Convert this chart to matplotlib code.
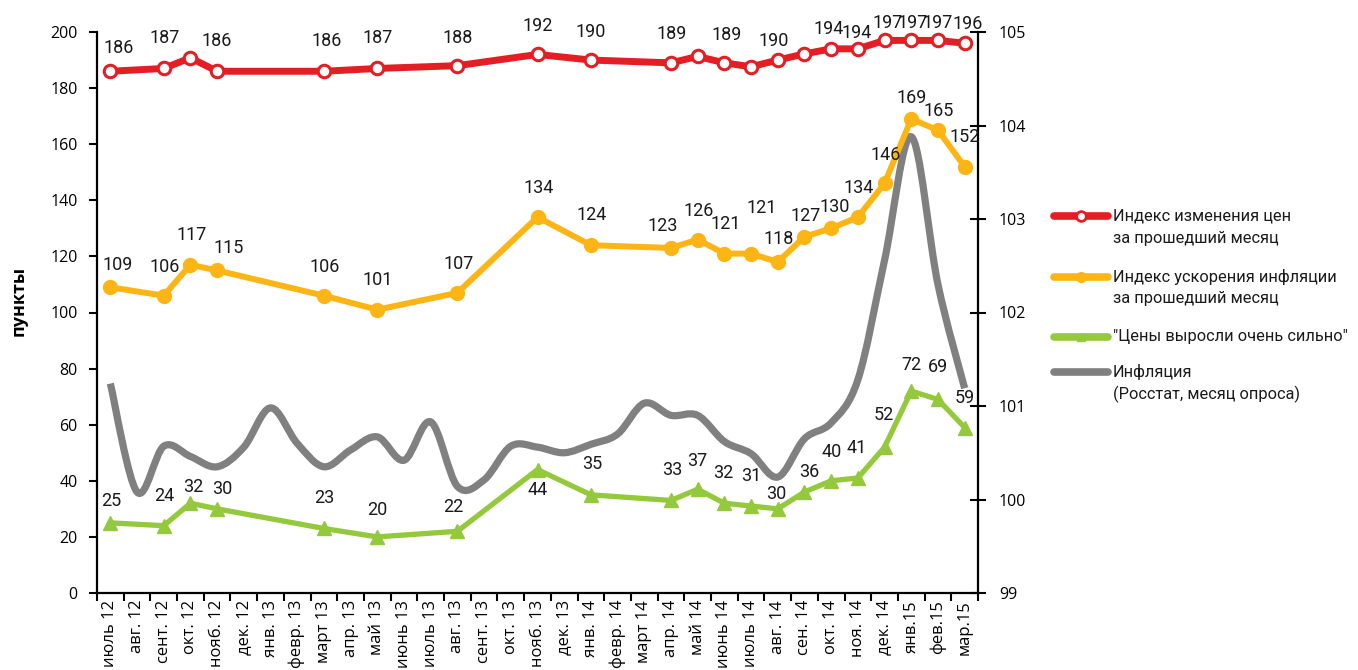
import numpy as np
import matplotlib
matplotlib.use('Agg')
import matplotlib.pyplot as plt
from matplotlib.path import Path
from matplotlib.patches import PathPatch
from matplotlib.lines import Line2D

# ---------------- data ----------------
months = ['июль 12', 'авг. 12', 'сент. 12', 'окт. 12', 'нояб. 12', 'дек. 12',
          'янв. 13', 'февр. 13', 'март 13', 'апр. 13', 'май 13', 'июнь 13',
          'июль 13', 'авг. 13', 'сент. 13', 'окт. 13', 'нояб. 13', 'дек. 13',
          'янв. 14', 'февр. 14', 'март 14', 'апр. 14', 'май 14', 'июнь 14',
          'июль 14', 'авг. 14', 'сен. 14', 'окт. 14', 'ноя. 14', 'дек. 14',
          'янв.15', 'фев.15', 'мар.15']

survey_months = ['июль 12', 'сент. 12', 'окт. 12', 'нояб. 12', 'март 13', 'май 13',
                 'авг. 13', 'нояб. 13', 'янв. 14', 'апр. 14', 'май 14', 'июнь 14',
                 'июль 14', 'авг. 14', 'сен. 14', 'окт. 14', 'ноя. 14', 'дек. 14',
                 'янв.15', 'фев.15', 'мар.15']

price_change_index = [186, 187, 190.8, 186, 186, 187, 188, 192, 190, 189, 191.3,
                      189, 187.6, 190, 192.2, 194, 194, 197, 197, 197, 196]
price_change_labeled = [True, True, False, True, True, True, True, True, True, True,
                        False, True, False, True, False, True, True, True, True, True, True]

inflation_accel_index = [109, 106, 117, 115, 106, 101, 107, 134, 124, 123, 126,
                         121, 121, 118, 127, 130, 134, 146, 169, 165, 152]

prices_grew_strongly = [25, 24, 32, 30, 23, 20, 22, 44, 35, 33, 37,
                        32, 31, 30, 36, 40, 41, 52, 72, 69, 59]

rosstat_inflation = [101.24, 100.08, 100.57, 100.46, 100.35, 100.56, 100.98, 100.60,
                     100.35, 100.53, 100.67, 100.42, 100.83, 100.14, 100.21, 100.57,
                     100.56, 100.50, 100.59, 100.70, 101.03, 100.90, 100.90, 100.62,
                     100.49, 100.24, 100.65, 100.82, 101.28, 102.56, 103.88, 102.30,
                     101.19]

legend_labels = ['Индекс изменения цен\nза прошедший месяц',
                 'Индекс ускорения инфляции\nза прошедший месяц',
                 '"Цены выросли очень сильно"',
                 'Инфляция\n(Росстат, месяц опроса)']

# ---------------- label offsets (pixels: dx, up) ----------------
red_off = [(8, 23), (1, 30), (0, 0), (0, 30), (3, 30), (0, 30), (0, 28), (0, 28), (0, 28),
           (1, 29), (0, 0), (2, 28), (0, 0), (-4, 19), (0, 0), (-2, 20), (-1, 16), (3, 17),
           (1, 17), (0, 17), (3, 19)]
orange_off = [(7, 22), (1, 29), (1, 30), (12, 22), (1, 29), (0, 30), (1, 29), (1, 29), (1, 30),
              (-8, 22), (1, 29), (1, 30), (11, 46), (1, 23), (1, 21), (4, 21), (1, 29), (1, 28),
              (0, 21), (1, 19), (0, 30)]
green_off = [(1, 22), (1, 30), (3, 16), (5, 20), (0, 30), (0, 27), (-4, 24), (0, -20), (1, 31),
             (1, 30), (0, 28), (-1, 30), (0, 30), (-2, 15), (5, 20), (1, 29), (-1, 30), (-1, 32),
             (0, 26), (0, 32), (0, 30)]

RED = '#E31E24'
ORANGE = '#FDB515'
GREEN = '#94C83D'
GRAY = '#808080'

TICK_FONT = ['Open Sans', 'DejaVu Sans']
LABEL_FONT = ['Roboto', 'DejaVu Sans']

W, H = 1358, 670
fig = plt.figure(figsize=(W / 100, H / 100), dpi=100)
ax = fig.add_axes([97 / W, 77 / H, 881 / W, 561 / H])
ax2 = ax.twinx()

x_all = np.arange(len(months))
x_s = np.array([months.index(m) for m in survey_months])

# gray smoothed inflation line on secondary axis
def smooth_path(xs, ys):
    pts = np.column_stack([xs, ys]).astype(float)
    n = len(pts)
    verts = [pts[0]]
    codes = [Path.MOVETO]
    for i in range(n - 1):
        p0 = pts[i - 1] if i > 0 else pts[i]
        p1 = pts[i]
        p2 = pts[i + 1]
        p3 = pts[i + 2] if i + 2 < n else pts[i + 1]
        c1 = p1 + (p2 - p0) / 6.0
        c2 = p2 - (p3 - p1) / 6.0
        verts += [c1, c2, p2]
        codes += [Path.CURVE4] * 3
    return Path(verts, codes)

patch = PathPatch(smooth_path(x_all, rosstat_inflation), facecolor='none',
                  edgecolor=GRAY, lw=5.2, capstyle='butt', joinstyle='round')
ax2.add_patch(patch)
ax2.set_ylim(99, 105)
ax2.set_yticks(np.arange(99, 105.1, 1))

ax.set_zorder(ax2.get_zorder() + 1)
ax.patch.set_visible(False)

# main series
ax.plot(x_s, price_change_index, color=RED, lw=5, marker='o', ms=9,
        mfc='white', mec=RED, mew=2.2, zorder=5, solid_joinstyle='round')
ax.plot(x_s, inflation_accel_index, color=ORANGE, lw=4.3, marker='o', ms=10,
        mfc=ORANGE, mec=ORANGE, zorder=4, solid_joinstyle='round')
ax.plot(x_s, prices_grew_strongly, color=GREEN, lw=3.8, marker='^', ms=10,
        mfc=GREEN, mec=GREEN, zorder=4, solid_joinstyle='round')

def put_labels(vals, offs, shown=None):
    for i, (xx, v) in enumerate(zip(x_s, vals)):
        if shown is not None and not shown[i]:
            continue
        dx, dy = offs[i]
        ax.annotate(f'{round(v)}', (xx, v), xytext=(dx, dy), textcoords='offset pixels',
                    ha='center', va='center', fontsize=13, family=LABEL_FONT,
                    color='#1a1a1a', zorder=6)

put_labels(price_change_index, red_off, price_change_labeled)
put_labels(inflation_accel_index, orange_off)
put_labels(prices_grew_strongly, green_off)

# axes formatting
ax.set_xlim(-0.5, len(months) - 0.5)
ax.set_ylim(0, 200)
ax.set_yticks(np.arange(0, 201, 20))
ax.set_xticks(x_all)
ax.set_xticklabels(months, rotation=90, family=TICK_FONT, fontsize=12)
ax.set_xticks(np.arange(-0.5, len(months), 1), minor=True)
ax.tick_params(axis='x', which='major', length=0, pad=5)
ax.tick_params(axis='x', which='minor', length=6, width=1.5, direction='out')
ax.tick_params(axis='y', length=6, width=1.5, direction='out', pad=8, labelsize=11.5)
for lab in ax.get_yticklabels():
    lab.set_family(TICK_FONT)
ax2.tick_params(axis='y', length=12, width=1.5, direction='inout', pad=9, labelsize=11.5)
for lab in ax2.get_yticklabels():
    lab.set_family(TICK_FONT)

for a in (ax, ax2):
    a.spines['top'].set_visible(False)
    for s in ('left', 'right', 'bottom'):
        a.spines[s].set_linewidth(1.6)
ax.spines['right'].set_visible(False)
ax2.spines['left'].set_visible(False)
ax2.spines['bottom'].set_visible(False)

ax.set_ylabel('пункты', fontsize=13, fontweight='bold', family=TICK_FONT)
ax.yaxis.set_label_coords((28 - 97) / 881, 0.52)

# legend (manually laid out)
entries = [
    dict(color=RED, marker='o', mfc='white', mec=RED, ms=7, mew=2, lw=5.5, y=216),
    dict(color=ORANGE, marker='o', mfc=ORANGE, mec=ORANGE, ms=7, mew=1, lw=5.5, y=277),
    dict(color=GREEN, marker='^', mfc=GREEN, mec=GREEN, ms=6, mew=1, lw=5.5, y=337),
    dict(color=GRAY, marker=None, mfc=GRAY, mec=GRAY, ms=0, mew=0, lw=5.5, y=372),
]
for e, lab in zip(entries, legend_labels):
    yf = 1 - e['y'] / H
    fig.add_artist(Line2D([1054 / W, 1108 / W], [yf, yf], color=e['color'], lw=e['lw'],
                          solid_capstyle='round', transform=fig.transFigure))
    if e['marker']:
        fig.add_artist(Line2D([1081 / W], [yf], marker=e['marker'], mfc=e['mfc'], mec=e['mec'],
                              ms=e['ms'], mew=e['mew'], lw=0, transform=fig.transFigure))
    for k, line in enumerate(lab.split('\n')):
        fig.text(1113 / W, 1 - (e['y'] + 22 * k) / H, line, ha='left', va='center',
                 fontsize=11.8, family=LABEL_FONT, color='#1a1a1a')

fig.savefig('out.png', dpi=100)
